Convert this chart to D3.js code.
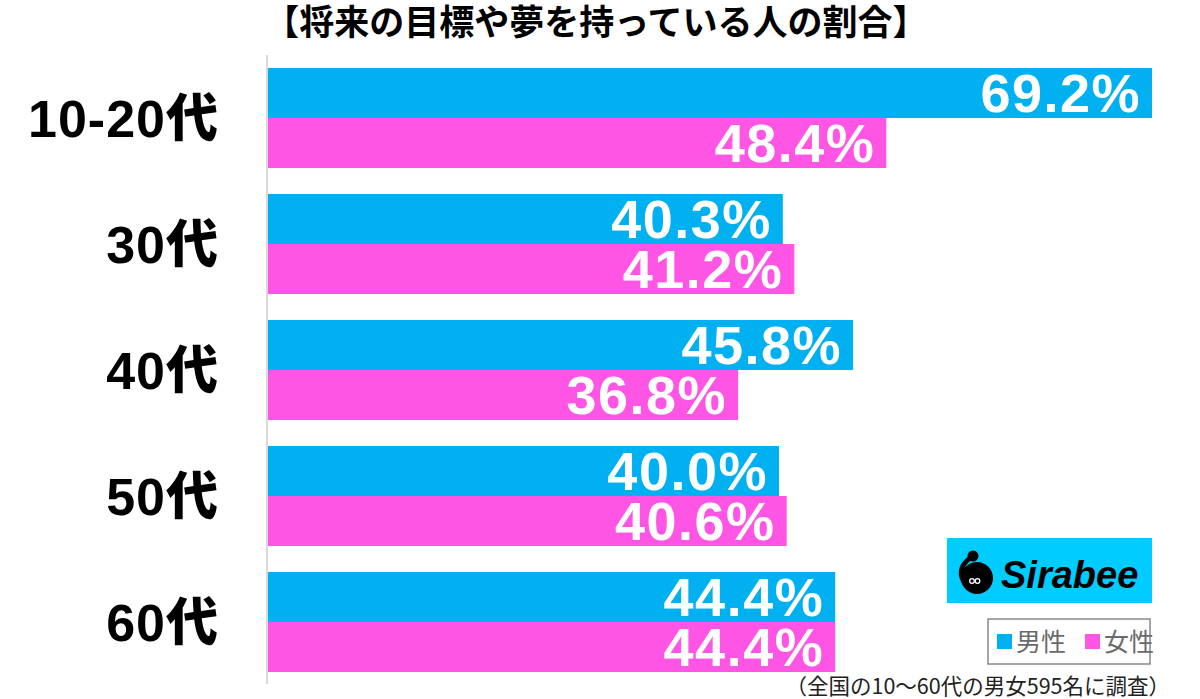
<!DOCTYPE html>
<html>
<head>
<meta charset="utf-8">
<script src="https://cdn.jsdelivr.net/npm/d3@7"></script>
<style>
  body { margin: 0; background: #fff; }
  svg { display: block; }
</style>
</head>
<body>
<div id="chart"></div>
<script>
// data
const categories = ["10-20代", "30代", "40代", "50代", "60代"];
const seriesNames = ["男性", "女性"];
const maleValues = [69.2, 40.3, 45.8, 40.0, 44.4];
const femaleValues = [48.4, 41.2, 36.8, 40.6, 44.4];
const titleText = "【将来の目標や夢を持っている人の割合】";
const noteText = "（全国の10〜60代の男女595名に調査）";

const colors = ["#00b0f0", "#ff55e5"];
const width = 1200, height = 699;

var rows = categories.map((c, i) => ({ cat: c, values: [maleValues[i], femaleValues[i]] }));

const svg = d3.select("#chart")
    .append("svg")
    .attr("width", width)
    .attr("height", height);

// scales
const x = d3.scaleLinear()
    .domain([0, d3.max(maleValues.concat(femaleValues))])
    .range([268, 1152]);

const y = d3.scaleBand()
    .domain(categories)
    .range([55, 685])
    .paddingInner(0.206)
    .paddingOuter(0.103);

const ySub = d3.scaleBand()
    .domain(seriesNames)
    .range([0, y.bandwidth()]);

// title
svg.append("text")
    .attr("x", 596)
    .attr("y", 35)
    .attr("text-anchor", "middle")
    .style("font-family", "'Noto Sans CJK JP'")
    .style("font-weight", "bold")
    .style("font-size", "35px")
    .text(titleText);

// bars
const groups = svg.selectAll("g.group")
    .data(rows)
    .enter()
    .append("g")
    .attr("class", "group")
    .attr("transform", d => `translate(0,${y(d.cat)})`);

groups.selectAll("rect")
    .data(d => d.values.map((v, j) => ({ v: v, s: seriesNames[j], j: j })))
    .enter()
    .append("rect")
    .attr("x", x(0))
    .attr("y", d => ySub(d.s))
    .attr("width", d => x(d.v) - x(0))
    .attr("height", ySub.bandwidth())
    .attr("fill", d => colors[d.j]);

groups.selectAll("text.val")
    .data(d => d.values.map((v, j) => ({ v: v, s: seriesNames[j] })))
    .enter()
    .append("text")
    .attr("class", "val")
    .attr("x", d => x(d.v) - 11)
    .attr("y", d => ySub(d.s) + ySub.bandwidth() / 2 + 19)
    .attr("text-anchor", "end")
    .attr("fill", "#fff")
    .style("font-family", "'Liberation Sans', Arial, sans-serif")
    .style("font-weight", "bold")
    .style("font-size", "54px")
    .style("letter-spacing", "1.5px")
    .text(d => d.v.toFixed(1) + "%");

// axis line
svg.append("line")
    .attr("x1", 267).attr("x2", 267)
    .attr("y1", y.range()[0]).attr("y2", y.range()[1] - 1)
    .attr("stroke", "#d9d9d9")
    .attr("stroke-width", 2);

// category labels
const yAxis = d3.axisLeft(y).tickSize(0).tickPadding(0);
const axisG = svg.append("g")
    .attr("transform", "translate(219,0)")
    .call(yAxis);
axisG.select(".domain").remove();
axisG.selectAll("text")
    .attr("dy", "19px")
    .attr("fill", "#000")
    .style("font-family", "'Liberation Sans', 'Noto Sans CJK JP', sans-serif")
    .style("font-weight", "900")
    .style("font-size", "52px")
    .style("letter-spacing", "1px");

// Sirabee logo
const logo = svg.append("g");
logo.append("rect")
    .attr("x", 947).attr("y", 538)
    .attr("width", 205).attr("height", 65)
    .attr("fill", "#00ccff");
logo.append("circle").attr("cx", 977).attr("cy", 578).attr("r", 16).attr("fill", "#000");
logo.append("circle").attr("cx", 973).attr("cy", 556).attr("r", 5.5).attr("fill", "#000");
logo.append("path")
    .attr("d", "M973,556 C962,563 958,572 964,582")
    .attr("fill", "none").attr("stroke", "#000").attr("stroke-width", 5);
logo.append("circle").attr("cx", 972).attr("cy", 581).attr("r", 2.3).attr("fill", "none").attr("stroke", "#fff").attr("stroke-width", 1.3);
logo.append("circle").attr("cx", 977.5).attr("cy", 581).attr("r", 2.3).attr("fill", "none").attr("stroke", "#fff").attr("stroke-width", 1.3);
logo.append("text")
    .attr("x", 1001).attr("y", 588)
    .style("font-family", "'Liberation Sans', Arial, sans-serif")
    .style("font-weight", "bold")
    .style("font-style", "italic")
    .style("font-size", "38px")
    .attr("fill", "#000")
    .text("Sirabee");

// legend
const legend = svg.append("g");
legend.append("rect")
    .attr("x", 988).attr("y", 619)
    .attr("width", 162).attr("height", 45)
    .attr("fill", "#fff")
    .attr("stroke", "#888")
    .attr("stroke-width", 1.5);
const legX = [997, 1085];
seriesNames.forEach((s, i) => {
    legend.append("rect")
        .attr("x", legX[i]).attr("y", 634)
        .attr("width", 15).attr("height", 15)
        .attr("fill", colors[i]);
    legend.append("text")
        .attr("x", legX[i] + 19).attr("y", 651)
        .attr("fill", "#6a6a6a")
        .style("font-family", "'Noto Sans CJK JP'")
        .style("font-size", "25px")
        .text(s);
});

// footnote
svg.append("text")
    .attr("x", 1170).attr("y", 694)
    .attr("text-anchor", "end")
    .attr("fill", "#222")
    .style("font-family", "'Noto Sans CJK JP'")
    .style("font-size", "21.5px")
    .text(noteText);
</script>
</body>
</html>
